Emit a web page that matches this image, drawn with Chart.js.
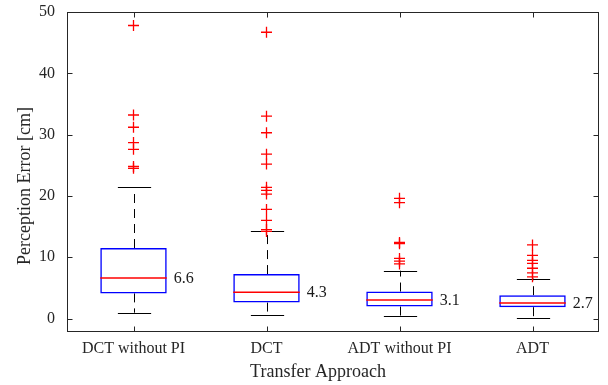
<!DOCTYPE html>
<html>
<head>
<meta charset="utf-8">
<script src="https://cdn.jsdelivr.net/npm/chart.js@4/dist/chart.umd.min.js"></script>
<style>
  html, body { margin: 0; padding: 0; background: #ffffff; }
  #c { display: block; }
</style>
</head>
<body>
<canvas id="c" width="608" height="385"></canvas>
<script>
// ---- data ----
const categories = ['DCT without PI', 'DCT', 'ADT without PI', 'ADT'];
const q1 = [4.1, 2.6, 1.95, 1.85];
const q3 = [11.5, 7.25, 4.4, 3.8];
const medians = [6.6, 4.3, 3.0, 2.55];
const medianLabels = ['6.6', '4.3', '3.1', '2.7'];
const whiskerLow = [0.95, 0.5, 0.4, 0.1];
const whiskerHigh = [21.4, 14.2, 7.8, 6.5];
const outliersDCTnoPI = [47.8, 33.2, 31.2, 28.7, 27.6, 24.8, 24.5];
const outliersDCT = [46.7, 33.0, 30.3, 26.8, 25.2, 21.4, 20.9, 20.3, 17.8, 16.0, 14.5, 14.2];
const outliersADTnoPI = [19.6, 18.9, 12.4, 12.2, 9.8, 9.35, 8.9];
const outliersADT = [12.0, 10.3, 9.5, 9.0, 8.2, 7.45, 6.8];
const yTicks = [0, 10, 20, 30, 40, 50];
const xTitle = 'Transfer Approach';
const yTitle = 'Perception Error [cm]';

const outlierGroups = [outliersDCTnoPI, outliersDCT, outliersADTnoPI, outliersADT];
const outlierPoints = [];
outlierGroups.forEach((g, i) => g.forEach(v => outlierPoints.push({ x: categories[i], y: v })));

const FONT = "'Liberation Serif', 'Times New Roman', serif";
const AXIS = '#262626';

const boxPlugin = {
  id: 'boxParts',
  beforeDatasetsDraw(chart) {
    const ctx = chart.ctx;
    const xs = chart.scales.x, ys = chart.scales.y;
    const meta = chart.getDatasetMeta(0);
    ctx.save();
    ctx.strokeStyle = '#000000';
    ctx.lineWidth = 1;
    categories.forEach((c, i) => {
      const x = Math.round(xs.getPixelForValue(i)) + 0.5;
      const bw = meta.data[i].width;
      const capHalf = bw / 4;
      ctx.setLineDash([9, 6]);
      ctx.beginPath();
      ctx.moveTo(x, ys.getPixelForValue(q3[i]));
      ctx.lineTo(x, ys.getPixelForValue(whiskerHigh[i]));
      ctx.moveTo(x, ys.getPixelForValue(q1[i]));
      ctx.lineTo(x, ys.getPixelForValue(whiskerLow[i]));
      ctx.stroke();
      ctx.setLineDash([]);
      ctx.beginPath();
      const yh = Math.round(ys.getPixelForValue(whiskerHigh[i])) + 0.5;
      const yl = Math.round(ys.getPixelForValue(whiskerLow[i])) + 0.5;
      ctx.moveTo(x - capHalf, yh); ctx.lineTo(x + capHalf, yh);
      ctx.moveTo(x - capHalf, yl); ctx.lineTo(x + capHalf, yl);
      ctx.stroke();
    });
    ctx.restore();
  },
  afterDatasetsDraw(chart) {
    const ctx = chart.ctx;
    const xs = chart.scales.x, ys = chart.scales.y;
    const meta = chart.getDatasetMeta(0);
    ctx.save();
    categories.forEach((c, i) => {
      const x = xs.getPixelForValue(i);
      const bw = meta.data[i].width;
      const ym = ys.getPixelForValue(medians[i]);
      ctx.strokeStyle = '#ff0000';
      ctx.lineWidth = 1.5;
      ctx.beginPath();
      ctx.moveTo(x - bw / 2, ym); ctx.lineTo(x + bw / 2, ym);
      ctx.stroke();
      ctx.fillStyle = '#1a1a1a';
      ctx.font = '16px ' + FONT;
      ctx.textAlign = 'left';
      ctx.textBaseline = 'middle';
      ctx.fillText(medianLabels[i], x + bw / 2 + 7, ym + 1);
    });
    ctx.restore();
  },
  afterDraw(chart) {
    const ctx = chart.ctx;
    const a = chart.chartArea;
    const xs = chart.scales.x, ys = chart.scales.y;
    ctx.save();
    ctx.strokeStyle = AXIS;
    ctx.lineWidth = 1;
    const L = Math.round(a.left) + 0.5, R = Math.round(a.right) - 0.5;
    const T = Math.round(a.top) + 0.5, B = Math.round(a.bottom) - 0.5;
    ctx.strokeRect(L, T, R - L, B - T);
    const tl = 5;
    ctx.beginPath();
    yTicks.forEach(v => {
      const y = Math.round(ys.getPixelForValue(v)) + 0.5;
      ctx.moveTo(L, y); ctx.lineTo(L + tl, y);
      ctx.moveTo(R, y); ctx.lineTo(R - tl, y);
    });
    categories.forEach((c, i) => {
      const x = Math.round(xs.getPixelForValue(i)) + 0.5;
      ctx.moveTo(x, B); ctx.lineTo(x, B - tl);
      ctx.moveTo(x, T); ctx.lineTo(x, T + tl);
    });
    ctx.stroke();
    ctx.fillStyle = AXIS;
    ctx.font = '18px ' + FONT;
    ctx.textAlign = 'center';
    ctx.textBaseline = 'middle';
    ctx.fillText(xTitle, 318, 372);
    ctx.translate(25, 186);
    ctx.rotate(-Math.PI / 2);
    ctx.fillText(yTitle, 0, 0);
    ctx.restore();
  }
};

new Chart(document.getElementById('c'), {
  type: 'bar',
  data: {
    labels: categories,
    datasets: [
      {
        type: 'bar',
        data: q1.map((v, i) => [v, q3[i]]),
        backgroundColor: 'rgba(0,0,0,0)',
        borderColor: '#0000ff',
        borderWidth: 1.5,
        borderSkipped: false,
        barPercentage: 0.5,
        categoryPercentage: 1.0,
        order: 2
      },
      {
        type: 'line',
        data: outlierPoints,
        showLine: false,
        pointStyle: 'cross',
        pointRadius: 5.5,
        pointHoverRadius: 5.5,
        borderColor: '#ff0000',
        pointBorderColor: '#ff0000',
        backgroundColor: '#ff0000',
        pointBackgroundColor: '#ff0000',
        pointBorderWidth: 1.3,
        borderWidth: 1.3,
        order: 1
      }
    ]
  },
  options: {
    responsive: false,
    animation: false,
    events: [],
    layout: { padding: { left: 0, right: 9, top: 12, bottom: 0 } },
    plugins: { legend: { display: false }, tooltip: { enabled: false } },
    scales: {
      x: {
        offset: true,
        grid: { display: false, drawTicks: false },
        border: { display: false },
        ticks: { color: AXIS, font: { family: FONT, size: 16 }, padding: 7, maxRotation: 0 },
        afterFit(s) { s.height = 53; s.paddingLeft = 0; s.paddingRight = 0; s.paddingTop = 0; s.paddingBottom = 0; }
      },
      y: {
        min: -2.2,
        max: 50,
        grid: { display: false, drawTicks: false },
        border: { display: false },
        ticks: { color: AXIS, font: { family: FONT, size: 16 }, padding: 12 },
        afterBuildTicks(s) { s.ticks = yTicks.map(v => ({ value: v })); },
        afterFit(s) { s.width = 67; s.paddingTop = 0; s.paddingBottom = 0; s.paddingLeft = 0; s.paddingRight = 0; }
      }
    }
  },
  plugins: [boxPlugin]
});
</script>
</body>
</html>
